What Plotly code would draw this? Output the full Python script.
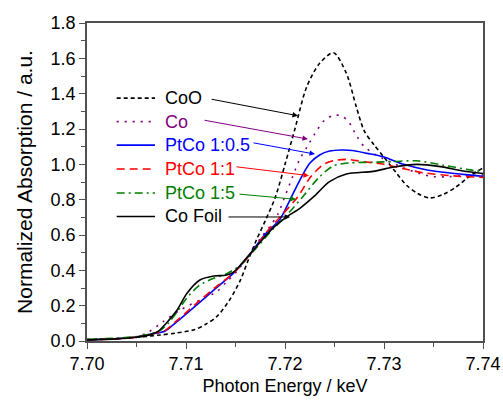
import plotly.graph_objects as go

# ---------------- data ----------------
coo_e = [7.700, 7.703, 7.7048, 7.7074, 7.709, 7.7109, 7.7120, 7.7131, 7.7144, 7.7155, 7.7163,
         7.7171, 7.7180, 7.7190, 7.7200, 7.7210, 7.7222, 7.7235, 7.7249, 7.7262, 7.7272,
         7.7280, 7.7290, 7.7300, 7.7312, 7.7323, 7.7334, 7.7346, 7.7360, 7.7373, 7.7387, 7.7400]
coo_a = [0.008, 0.014, 0.020, 0.034, 0.045, 0.065, 0.095, 0.138, 0.232, 0.345, 0.46,
         0.57, 0.68, 0.81, 1.00, 1.20, 1.44, 1.572, 1.632, 1.515, 1.326,
         1.19, 1.11, 1.04, 0.955, 0.88, 0.835, 0.810, 0.830, 0.873, 0.935, 0.980]

co_e = [7.700, 7.703, 7.7048, 7.7062, 7.7077, 7.7094, 7.7114, 7.7131, 7.7141, 7.7151, 7.7165,
        7.7175, 7.7185, 7.7193, 7.7200, 7.7207, 7.7215, 7.7224, 7.7232, 7.7240, 7.7250,
        7.7258, 7.7265, 7.7272, 7.7280, 7.7290, 7.7300, 7.7320, 7.7336, 7.7350, 7.7365, 7.7380, 7.7400]
co_a = [0.008, 0.014, 0.022, 0.050, 0.110, 0.175, 0.232, 0.279, 0.335, 0.392, 0.496,
        0.580, 0.650, 0.720, 0.820, 0.920, 1.030, 1.115, 1.190, 1.250, 1.278,
        1.272, 1.235, 1.165, 1.100, 1.060, 1.030, 0.980, 0.948, 0.930, 0.930, 0.935, 0.940]

pt05_e = [7.700, 7.703, 7.7048, 7.7064, 7.7079, 7.7090, 7.7110, 7.7130, 7.7149, 7.7165, 7.7180,
          7.7195, 7.7205, 7.7215, 7.7225, 7.7235, 7.7245, 7.7257, 7.7268, 7.7283, 7.7299,
          7.7320, 7.7340, 7.7360, 7.7380, 7.7400]
pt05_a = [0.007, 0.013, 0.021, 0.038, 0.057, 0.105, 0.200, 0.298, 0.390, 0.495, 0.605,
          0.690, 0.798, 0.911, 1.006, 1.053, 1.075, 1.081, 1.078, 1.062, 1.043,
          1.000, 0.972, 0.955, 0.943, 0.932]

pt1_e = [7.700, 7.703, 7.7048, 7.7064, 7.7079, 7.7090, 7.7110, 7.7130, 7.7149, 7.7165, 7.7183,
         7.7198, 7.7213, 7.7226, 7.7239, 7.7250, 7.7262, 7.7280, 7.7300, 7.7320, 7.7340,
         7.7370, 7.7400]
pt1_a = [0.007, 0.013, 0.021, 0.038, 0.060, 0.112, 0.210, 0.305, 0.390, 0.490, 0.628,
         0.720, 0.817, 0.930, 1.000, 1.022, 1.028, 1.015, 1.000, 0.975, 0.952,
         0.935, 0.926]

pt5_e = [7.700, 7.703, 7.7048, 7.7064, 7.7074, 7.7082, 7.7091, 7.7101, 7.7114, 7.7128, 7.7140,
         7.7155, 7.7170, 7.7187, 7.7203, 7.7218, 7.7235, 7.7249, 7.7265, 7.7290, 7.7310,
         7.7333, 7.7360, 7.7385, 7.7400]
pt5_a = [0.010, 0.016, 0.024, 0.040, 0.060, 0.100, 0.165, 0.245, 0.317, 0.355, 0.378,
         0.430, 0.520, 0.628, 0.720, 0.817, 0.930, 0.992, 1.008, 1.012, 1.016,
         1.020, 0.995, 0.970, 0.958]

foil_e = [7.700, 7.703, 7.7048, 7.7064, 7.7072, 7.7080, 7.7091, 7.7101, 7.7114, 7.7128, 7.7140,
          7.7148, 7.7158, 7.7171, 7.7188, 7.7202, 7.7215, 7.7229, 7.7245, 7.7262, 7.7289,
          7.7310, 7.7333, 7.7357, 7.7380, 7.7400]
foil_a = [0.006, 0.012, 0.020, 0.036, 0.055, 0.100, 0.175, 0.270, 0.345, 0.368, 0.372,
          0.390, 0.449, 0.534, 0.640, 0.704, 0.751, 0.817, 0.902, 0.945, 0.960,
          0.985, 1.000, 0.987, 0.962, 0.948]

labels = ["CoO", "Co", "PtCo 1:0.5", "PtCo 1:1", "PtCo 1:5", "Co Foil"]
colors = ["#000000", "#800080", "#0000FF", "#FF0000", "#008000", "#000000"]
dashes = ["4px,3px", "2px,6px", "solid", "8px,5px", "8px,4px,2px,4px", "solid"]
series_e = [coo_e, co_e, pt05_e, pt1_e, pt5_e, foil_e]
series_a = [coo_a, co_a, pt05_a, pt1_a, pt5_a, foil_a]

# legend rows (y in data units) and arrow tail/head positions
legend_y = [1.375, 1.242, 1.109, 0.974, 0.838, 0.705]
arrow_tail = [(7.71244, 1.370), (7.71172, 1.251), (7.71667, 1.123),
              (7.71495, 0.987), (7.71525, 0.832), (7.71414, 0.702)]
arrow_head = [(7.72131, 1.275), (7.72232, 1.143), (7.72303, 1.058),
              (7.72242, 0.936), (7.72111, 0.802), (7.72051, 0.702)]

fig = go.Figure()
for e, a, c, d, n in zip(series_e, series_a, colors, dashes, labels):
    fig.add_trace(go.Scatter(x=e, y=a, mode="lines", name=n,
                             line=dict(color=c, dash=d, width=1.6, shape="spline", smoothing=0.8)))

font = "Liberation Sans, Arial, sans-serif"
shapes = []
annotations = []
for i, n in enumerate(labels):
    shapes.append(dict(type="line", xref="x", yref="y", x0=7.7030, x1=7.70687,
                       y0=legend_y[i], y1=legend_y[i],
                       line=dict(color=colors[i], dash=dashes[i], width=1.6)))
    annotations.append(dict(x=7.70768, y=legend_y[i], xref="x", yref="y", text=n,
                            showarrow=False, xanchor="left", yanchor="middle",
                            font=dict(family=font, size=18, color=colors[i])))
    annotations.append(dict(x=arrow_head[i][0], y=arrow_head[i][1], ax=arrow_tail[i][0],
                            ay=arrow_tail[i][1], xref="x", yref="y", axref="x", ayref="y",
                            text="", showarrow=True, arrowhead=2, arrowsize=1.1,
                            arrowwidth=1, arrowcolor=colors[i], standoff=0, startstandoff=0))

axis_common = dict(showline=True, linecolor="#505050", linewidth=1.5, mirror=True,
                   ticks="outside", ticklen=6, tickwidth=1, tickcolor="#505050",
                   showgrid=False, zeroline=False, automargin=False,
                   tickfont=dict(family=font, size=18, color="black"))

fig.update_layout(
    width=503, height=401,
    margin=dict(l=87, r=20, t=23, b=60),
    paper_bgcolor="white", plot_bgcolor="white",
    showlegend=False,
    shapes=shapes, annotations=annotations,
    xaxis=dict(range=[7.70, 7.74], dtick=0.01, tick0=7.70, tickformat=".2f",
               minor=dict(dtick=0.005, ticks="outside", ticklen=4, tickcolor="#505050"),
               title=dict(text="Photon Energy / keV", font=dict(family=font, size=18, color="black"),
                          standoff=6),
               **axis_common),
    yaxis=dict(range=[0, 1.8], dtick=0.2, tick0=0, tickformat=".1f",
               minor=dict(dtick=0.1, ticks="outside", ticklen=4, tickcolor="#505050"),
               title=dict(text="Normalized Absorption / a.u.", font=dict(family=font, size=21, color="black"),
                          standoff=12),
               **axis_common),
)

fig.write_html("out.html")
